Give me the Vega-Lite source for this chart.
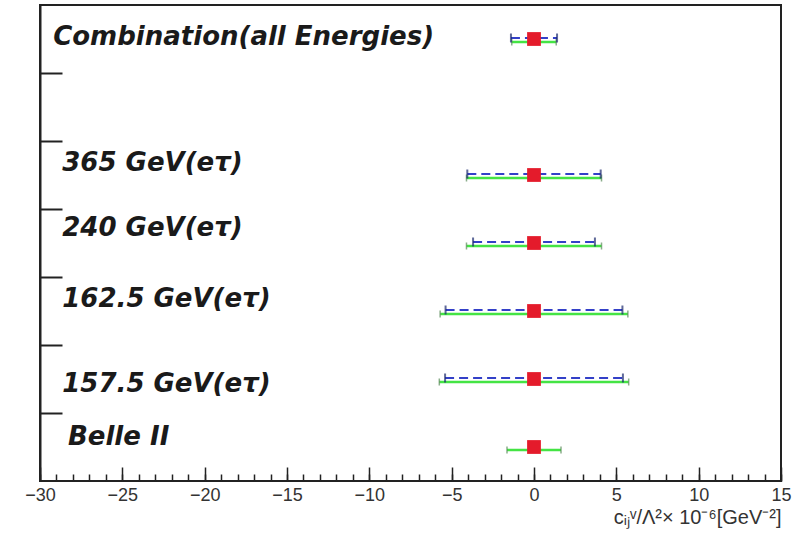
{
  "$schema": "https://vega.github.io/schema/vega-lite/v6.json",
  "width": 741,
  "height": 476,
  "autosize": {"type": "none"},
  "padding": {"left": 40, "top": 5, "right": 24, "bottom": 55},
  "background": "white",
  "config": {
    "view": {"stroke": "#222", "strokeWidth": 2},
    "axis": {"grid": false, "domainColor": "#222", "domainWidth": 2, "tickColor": "#222"}
  },
  "datasets": {
    "rows": [
      {"label": "Combination(all Energies)", "pos": 6.5, "center": 0, "blue_lo": -1.4, "blue_hi": 1.4, "green_lo": -1.35, "green_hi": 1.35},
      {"label": "365 GeV(eτ)", "pos": 4.5, "center": 0, "blue_lo": -4.05, "blue_hi": 4.05, "green_lo": -4.1, "green_hi": 4.1},
      {"label": "240 GeV(eτ)", "pos": 3.5, "center": 0, "blue_lo": -3.7, "blue_hi": 3.7, "green_lo": -4.1, "green_hi": 4.1},
      {"label": "162.5 GeV(eτ)", "pos": 2.5, "center": 0, "blue_lo": -5.37, "blue_hi": 5.37, "green_lo": -5.7, "green_hi": 5.7},
      {"label": "157.5 GeV(eτ)", "pos": 1.5, "center": 0, "blue_lo": -5.4, "blue_hi": 5.4, "green_lo": -5.75, "green_hi": 5.75},
      {"label": "Belle II", "pos": 0.5, "center": 0, "blue_lo": null, "blue_hi": null, "green_lo": -1.64, "green_hi": 1.64}
    ],
    "labels": [
      {"text": "Combination(all Energies)", "lx": -29.2, "ly": 6.53},
      {"text": "365 GeV(eτ)", "lx": -28.65, "ly": 4.68},
      {"text": "240 GeV(eτ)", "lx": -28.65, "ly": 3.72},
      {"text": "162.5 GeV(eτ)", "lx": -28.65, "ly": 2.68},
      {"text": "157.5 GeV(eτ)", "lx": -28.65, "ly": 1.43},
      {"text": "Belle II", "lx": -28.3, "ly": 0.65}
    ]
  },
  "resolve": {"scale": {"x": "independent"}, "axis": {"x": "independent"}},
  "layer": [
    {
      "data": {"name": "rows"},
      "mark": {"type": "rule", "color": "#44e444", "strokeWidth": 2.5, "yOffset": 3},
      "encoding": {
        "x": {
          "field": "green_lo", "type": "quantitative",
          "scale": {"domain": [-30, 15], "nice": false, "zero": false},
          "axis": {
            "orient": "bottom",
            "values": [-30,-29,-28,-27,-26,-25,-24,-23,-22,-21,-20,-19,-18,-17,-16,-15,-14,-13,-12,-11,-10,-9,-8,-7,-6,-5,-4,-3,-2,-1,0,1,2,3,4,5,6,7,8,9,10,11,12,13,14,15],
            "offset": -7, "tickSize": 7, "tickWidth": 1.5,
            "labels": false, "domain": false, "title": null
          }
        },
        "x2": {"field": "green_hi"},
        "y": {
          "field": "pos", "type": "quantitative",
          "scale": {"domain": [0, 7], "nice": false, "zero": false},
          "axis": {"values": [1, 2, 3, 4, 5, 6], "labels": false, "tickSize": -22, "tickWidth": 2, "title": null}
        }
      }
    },
    {
      "layer": [
        {
          "data": {"name": "rows"},
          "transform": [{"fold": ["green_lo", "green_hi"], "as": ["end", "xval"]}],
          "mark": {"type": "tick", "orient": "vertical", "size": 7, "thickness": 1.5, "color": "#5a8a5a", "yOffset": 3},
          "encoding": {
            "x": {"field": "xval", "type": "quantitative", "scale": {"domain": [-30, 15], "nice": false, "zero": false}},
            "y": {"field": "pos", "type": "quantitative"}
          }
        },
        {
          "data": {"name": "rows"},
          "mark": {"type": "rule", "color": "#3340c8", "strokeWidth": 2, "strokeDash": [9, 5], "yOffset": -1},
          "encoding": {
            "x": {"field": "blue_lo", "type": "quantitative", "scale": {"domain": [-30, 15], "nice": false, "zero": false}},
            "x2": {"field": "blue_hi"},
            "y": {"field": "pos", "type": "quantitative"}
          }
        },
        {
          "data": {"name": "rows"},
          "transform": [{"fold": ["blue_lo", "blue_hi"], "as": ["end", "xval"]}],
          "mark": {"type": "tick", "orient": "vertical", "size": 9, "thickness": 2, "color": "#1b2a6e", "yOffset": -1},
          "encoding": {
            "x": {"field": "xval", "type": "quantitative", "scale": {"domain": [-30, 15], "nice": false, "zero": false}},
            "y": {"field": "pos", "type": "quantitative"}
          }
        },
        {
          "data": {"name": "rows"},
          "mark": {"type": "point", "shape": "square", "filled": true, "size": 190, "color": "#e41b2b", "opacity": 1},
          "encoding": {
            "x": {"field": "center", "type": "quantitative", "scale": {"domain": [-30, 15], "nice": false, "zero": false}},
            "y": {"field": "pos", "type": "quantitative"}
          }
        },
        {
          "data": {"name": "labels"},
          "mark": {"type": "text", "align": "left", "baseline": "middle", "font": "DejaVu Sans", "fontSize": 26, "fontWeight": "bold", "fontStyle": "italic", "color": "#1a1a1a"},
          "encoding": {
            "x": {
              "field": "lx", "type": "quantitative",
              "scale": {"domain": [-30, 15], "nice": false, "zero": false},
              "axis": {
                "orient": "bottom",
                "values": [-30, -25, -20, -15, -10, -5, 0, 5, 10, 15],
                "offset": -14, "tickSize": 14, "tickWidth": 1.5, "domain": false,
                "labelFont": "Liberation Sans", "labelFontSize": 18, "labelColor": "#333",
                "labelFlush": false, "labelPadding": 5,
                "title": "cᵢⱼᵛ/Λ²× 10⁻⁶[GeV⁻²]",
                "titleFont": "Liberation Sans", "titleFontSize": 20, "titleFontWeight": "normal", "titleColor": "#333",
                "titleAnchor": "end", "titleAlign": "right", "titlePadding": 3
              }
            },
            "y": {"field": "ly", "type": "quantitative"},
            "text": {"field": "text"}
          }
        }
      ]
    }
  ]
}
